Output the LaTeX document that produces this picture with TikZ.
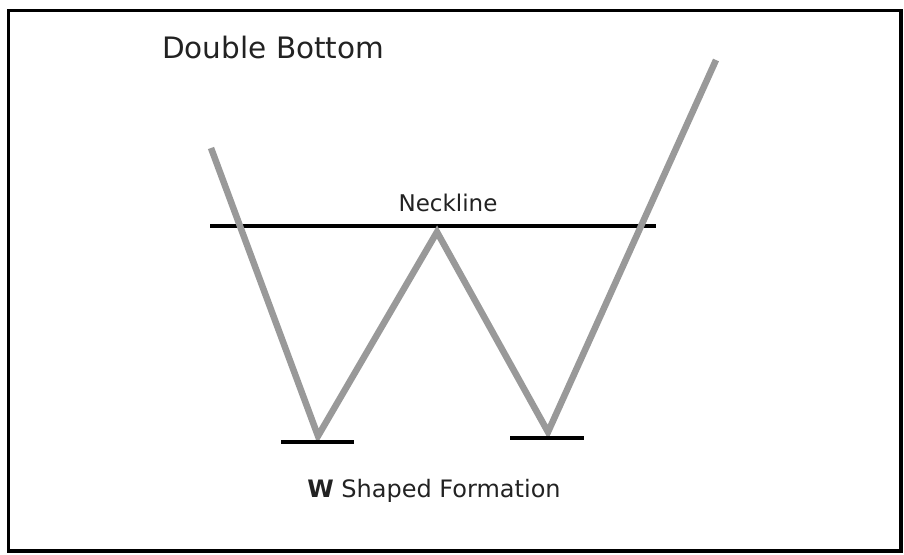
\documentclass[tikz,border=0pt]{standalone}
\usepackage{fontspec}
\setmainfont{DejaVu Sans}
\usepackage{xcolor}
\usepackage{tikz}
\usetikzlibrary{positioning}

\definecolor{pricegray}{HTML}{999999}
\definecolor{inkgray}{HTML}{222222}

\begin{document}
\begin{tikzpicture}[
    x=1pt, y=-1pt,
    caption/.style={inner sep=0pt, text=inkgray},
    price/.style={draw=pricegray, line width=6.5pt},
    bar/.style={draw=black, line width=4pt}
]

\useasboundingbox (0,0) rectangle (904,554);
\draw[line width=3.5pt] (8.5,10.5) rectangle (901,551);

% titles
\node[caption, anchor=base west, font=\fontsize{29.5}{31}\selectfont] (title) at (162,58) {Double Bottom};
\node[caption, anchor=base, font=\fontsize{23}{25}\selectfont] (neck) at (448,211) {Neckline};
\node[caption, anchor=base, font=\fontsize{24}{26}\selectfont] (shape) at (434,497) {\textbf{W} Shaped Formation};

% price path
\coordinate (start) at (211,148);
\coordinate (low1) at (318,436);
\coordinate (peak) at (437,232);
\coordinate (low2) at (548,432);
\coordinate (stop) at (716,60);

% neckline and support bars
\coordinate (nl) at (210,226);
\coordinate (nr) at (656,226);
\coordinate (s1l) at (281,442);
\coordinate (s1r) at (354,442);
\coordinate (s2l) at (510,438);
\coordinate (s2r) at (584,438);
\draw[bar] (nl) -- (nr);
\draw[price] (start) -- (low1) -- (peak) -- (low2) -- (stop);
\draw[bar] (s1l) -- (s1r);
\draw[bar] (s2l) -- (s2r);

\end{tikzpicture}
\end{document}
